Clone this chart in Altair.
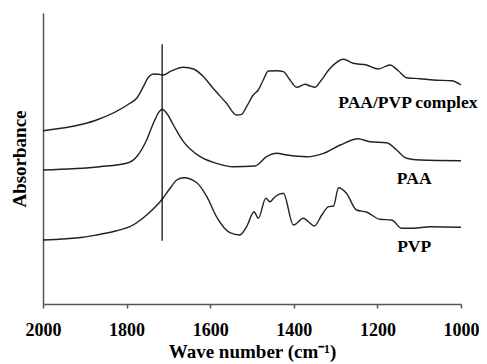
import altair as alt
import pandas as pd

# PAA/PVP complex
cx_w = [2000, 1904, 1872, 1792, 1776, 1760, 1748, 1736, 1724, 1712, 1696, 1664, 1640, 1616, 1593,
        1561, 1537, 1525, 1513, 1497, 1485, 1473, 1461, 1441, 1425, 1409, 1393, 1373, 1361, 1349,
        1337, 1313, 1281, 1258, 1226, 1198, 1170, 1150, 1130, 1098, 1066, 1022, 1000]
cx_a = [1.733, 1.800, 1.840, 2.007, 2.057, 2.173, 2.267, 2.300, 2.297, 2.290, 2.323, 2.367, 2.350,
        2.273, 2.157, 2.007, 1.890, 1.897, 1.973, 2.090, 2.140, 2.240, 2.330, 2.333, 2.323, 2.240,
        2.167, 2.197, 2.180, 2.167, 2.223, 2.357, 2.447, 2.407, 2.390, 2.350, 2.390, 2.333, 2.263,
        2.253, 2.240, 2.233, 2.190]

# PAA
paa_w = [2000, 1864, 1800, 1776, 1752, 1736, 1723, 1715, 1704, 1688, 1664, 1624, 1585, 1545, 1493,
         1465, 1441, 1417, 1369, 1329, 1289, 1246, 1218, 1178, 1154, 1130, 1098, 1000]
paa_a = [1.340, 1.373, 1.407, 1.473, 1.640, 1.807, 1.917, 1.947, 1.907, 1.790, 1.623, 1.473, 1.407,
         1.373, 1.380, 1.473, 1.507, 1.490, 1.473, 1.507, 1.590, 1.653, 1.623, 1.613, 1.540, 1.457,
         1.440, 1.433]

# PVP
pvp_w = [2000, 1904, 1872, 1824, 1792, 1752, 1715, 1696, 1680, 1663, 1632, 1608, 1585, 1553, 1529,
         1513, 1495, 1485, 1467, 1457, 1445, 1425, 1401, 1377, 1365, 1351, 1333, 1317, 1305, 1293,
         1274, 1250, 1226, 1194, 1166, 1142, 1114, 1074, 1000]
pvp_a = [0.640, 0.667, 0.690, 0.733, 0.773, 0.890, 1.047, 1.157, 1.240, 1.263, 1.213, 1.073, 0.873,
         0.713, 0.690, 0.773, 0.923, 0.857, 1.057, 1.023, 1.073, 1.107, 0.790, 0.857, 0.823, 0.780,
         0.890, 0.973, 0.980, 1.163, 1.107, 0.940, 0.920, 0.847, 0.840, 0.757, 0.757, 0.773, 0.767]

series_names = ["PAA/PVP complex", "PAA", "PVP"]
label_w = [1127, 1112, 1112]
label_a = [2.007, 1.250, 0.567]

marker_w = 1715
marker_a = [0.633, 2.597]

rows = []
for name, ws, as_ in zip(series_names, [cx_w, paa_w, pvp_w], [cx_a, paa_a, pvp_a]):
    for i, (w, a) in enumerate(zip(ws, as_)):
        rows.append({"series": name, "w": w, "a": a, "order": i})
df = pd.DataFrame(rows)
labels = pd.DataFrame({"series": series_names, "w": label_w, "a": label_a})
rule_df = pd.DataFrame({"w": [marker_w], "a": [marker_a[0]], "a2": [marker_a[1]]})

FONT = "Liberation Serif"

x = alt.X("w:Q", scale=alt.Scale(domain=[2000, 1000], nice=False, zero=False),
          axis=alt.Axis(title="Wave number (cm⁻¹)", values=[2000, 1800, 1600, 1400, 1200, 1000],
                        format="d", tickSize=4, labelPadding=13, titlePadding=3, labelFlush=False))
y = alt.Y("a:Q", scale=alt.Scale(domain=[0, 2.91], nice=False, zero=False),
          axis=alt.Axis(title="Absorbance", labels=False, ticks=False, titlePadding=14))

lines = alt.Chart(df).mark_line(color="#222", strokeWidth=1.4, interpolate="monotone").encode(
    x=x, y=y, detail="series:N", order="order:Q")

rule = alt.Chart(rule_df).mark_rule(color="black", strokeWidth=1.2).encode(
    x="w:Q", y="a:Q", y2="a2:Q")

text = alt.Chart(labels).mark_text(font=FONT, fontSize=17.5, fontWeight="bold", color="black").encode(
    x="w:Q", y="a:Q", text="series:N")

chart = alt.layer(lines, rule, text).properties(
    width=418, height=291,
    autosize=alt.AutoSizeParams(type="none"),
    padding={"left": 35, "top": 5, "right": 18, "bottom": 60},
).configure_view(stroke=None).configure_axis(
    grid=False,
    labelFont=FONT, labelFontSize=18, labelFontWeight="bold", labelColor="black",
    titleFont=FONT, titleFontSize=19, titleFontWeight="bold", titleColor="black",
    domainColor="#555", domainWidth=1.5, tickColor="#555", tickWidth=1.5,
)

chart.save("out.html", embed_options={"renderer": "svg", "actions": False})
